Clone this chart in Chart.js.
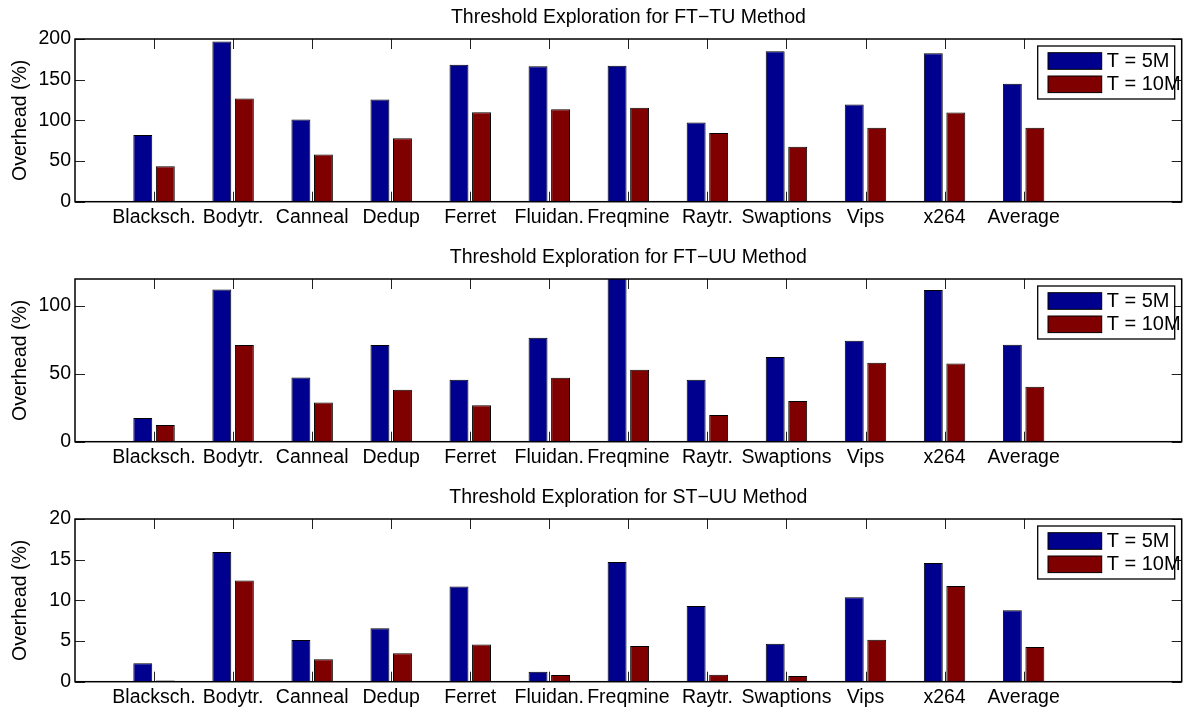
<!DOCTYPE html>
<html>
<head>
<meta charset="utf-8">
<script src="https://cdn.jsdelivr.net/npm/chart.js@4.4.1/dist/chart.umd.min.js"></script>
<style>
  html, body { margin: 0; padding: 0; background: #fff; overflow: hidden; }
  #wrap { position: relative; width: 1194px; height: 713px; }
  .panel { position: absolute; left: 0; width: 1194px; height: 240px; }
</style>
</head>
<body>
<div id="wrap">
  <div class="panel" style="top:0px"><canvas id="c1" width="1194" height="240"></canvas></div>
  <div class="panel" style="top:240px"><canvas id="c2" width="1194" height="240"></canvas></div>
  <div class="panel" style="top:480px"><canvas id="c3" width="1194" height="240"></canvas></div>
</div>
<script>
// Benchmarks (x categories) and the two threshold settings
const benchmarks = ['Blacksch.', 'Bodytr.', 'Canneal', 'Dedup', 'Ferret', 'Fluidan.', 'Freqmine', 'Raytr.', 'Swaptions', 'Vips', 'x264', 'Average'];
const seriesNames = ['T = 5M', 'T = 10M'];

// Overhead (%) per benchmark, FT-TU method
const ftTu5M  = [82, 197, 101, 125.5, 168.5, 166.5, 167, 97.5, 185, 119.5, 182.5, 145];
const ftTu10M = [43.5, 127, 58, 78, 110, 113.5, 115.5, 84.5, 67.5, 91, 109.5, 91];

// Overhead (%) per benchmark, FT-UU method
const ftUu5M  = [17.4, 112.3, 47.4, 71.3, 45.7, 76.7, 124, 45.7, 62.4, 74.4, 111.8, 71.5];
const ftUu10M = [12.3, 71.3, 29, 38.3, 26.8, 47.2, 53.1, 19.7, 30, 58.2, 57.7, 40.5];

// Overhead (%) per benchmark, ST-UU method
const stUu5M  = [2.26, 15.95, 5.13, 6.57, 11.7, 1.23, 14.7, 9.32, 4.68, 10.39, 14.58, 8.79];
const stUu10M = [0.16, 12.44, 2.75, 3.49, 4.56, 0.82, 4.39, 0.86, 0.7, 5.17, 11.75, 4.27];

// Y tick labels and upper limits of each panel
const ftTuTicks = [0, 50, 100, 150, 200];
const ftUuTicks = [0, 50, 100];
const stUuTicks = [0, 5, 10, 15, 20];
const yLimits = [200, 120, 20];
const panelTitles = ['Threshold Exploration for FT\u2212TU Method', 'Threshold Exploration for FT\u2212UU Method', 'Threshold Exploration for ST\u2212UU Method'];
const yAxisTitle = 'Overhead (%)';

const FONT = '"Liberation Sans", Arial, Helvetica, sans-serif';
const TEXT_SIZE = 19.5;
const BLUE = '#00008F';
const RED = '#800000';

// x runs from 0 to 14 with the benchmarks at positions 1..12
const xLabels = [''].concat(benchmarks, ['', '']);
const pad = vals => [null].concat(vals, [null, null]);

// axis box, inward tick marks and the boxed legend in the upper right
const framePlugin = {
  id: 'frame',
  beforeDatasetsDraw(chart) {
    const { ctx, chartArea: a, scales: { x, y } } = chart;
    const tl = 10;
    ctx.save();
    ctx.strokeStyle = '#222';
    ctx.lineWidth = 1;
    ctx.beginPath();
    for (let i = 1; i <= benchmarks.length; i++) {
      const px = Math.round(x.getPixelForValue(i)) + 0.5;
      ctx.moveTo(px, a.top); ctx.lineTo(px, a.top + tl);
      ctx.moveTo(px, a.bottom); ctx.lineTo(px, a.bottom - tl);
    }
    y.ticks.forEach(t => {
      const py = Math.round(y.getPixelForValue(t.value)) + 0.5;
      ctx.moveTo(a.left, py); ctx.lineTo(a.left + tl, py);
      ctx.moveTo(a.right, py); ctx.lineTo(a.right - tl, py);
    });
    ctx.stroke();
    ctx.restore();
  },
  afterDatasetsDraw(chart) {
    const { ctx, chartArea: a } = chart;
    ctx.save();
    ctx.strokeStyle = '#000';
    ctx.lineWidth = 1.5;
    ctx.strokeRect(a.left, a.top, a.right - a.left, a.bottom - a.top);

    // legend
    const w = 137, h = 53;
    const lx = a.right - 144, ly = a.top + 7;
    ctx.fillStyle = '#fff';
    ctx.fillRect(lx, ly, w, h);
    ctx.lineWidth = 1.3;
    ctx.strokeRect(lx, ly, w, h);
    ctx.font = '20px ' + FONT;
    ctx.textBaseline = 'middle';
    ctx.textAlign = 'left';
    chart.data.datasets.forEach((ds, i) => {
      const sy = ly + 6.7 + i * 23.3;
      ctx.fillStyle = ds.backgroundColor;
      ctx.fillRect(lx + 10.3, sy, 53.7, 16.6);
      ctx.lineWidth = 1;
      ctx.strokeStyle = '#000';
      ctx.strokeRect(lx + 10.3, sy, 53.7, 16.6);
      ctx.fillStyle = '#000';
      ctx.fillText(ds.label, lx + 69, sy + 8.8);
    });
    ctx.restore();
  }
};

function makePanel(canvasId, title, s5, s10, tickValues, yMax) {
  return new Chart(document.getElementById(canvasId), {
    type: 'bar',
    data: {
      labels: xLabels,
      datasets: [
        { label: seriesNames[0], data: pad(s5), backgroundColor: BLUE, borderColor: '#000', borderWidth: 1, borderSkipped: 'bottom' },
        { label: seriesNames[1], data: pad(s10), backgroundColor: RED, borderColor: '#000', borderWidth: 1, borderSkipped: 'bottom' }
      ]
    },
    options: {
      responsive: false,
      animation: false,
      devicePixelRatio: 1,
      datasets: { bar: { categoryPercentage: 0.57, barPercentage: 0.84 } },
      layout: { padding: { left: 0, right: 12.3, top: 0, bottom: 0 } },
      plugins: {
        legend: { display: false },
        tooltip: { enabled: false },
        title: {
          display: true,
          text: title,
          fullSize: false,
          color: '#000',
          font: { family: FONT, size: TEXT_SIZE, weight: 'normal', lineHeight: 1.2 },
          padding: { top: 5.5, bottom: 10.1 }
        }
      },
      scales: {
        x: {
          type: 'category',
          offset: false,
          grid: { display: false, drawTicks: false },
          border: { display: false },
          ticks: { autoSkip: false, maxRotation: 0, minRotation: 0, color: '#000', padding: 4, font: { family: FONT, size: TEXT_SIZE } },
          afterFit: s => { s.height = 38.3; }
        },
        y: {
          min: 0,
          max: yMax,
          grid: { display: false, drawTicks: false },
          border: { display: false },
          ticks: { color: '#000', padding: 4, font: { family: FONT, size: TEXT_SIZE } },
          afterBuildTicks: s => { s.ticks = tickValues.map(v => ({ value: v })); },
          afterFit: s => { s.width = 75; },
          title: { display: true, text: yAxisTitle, color: '#000', font: { family: FONT, size: TEXT_SIZE }, padding: { top: 9.3, bottom: 0 } }
        }
      }
    },
    plugins: [framePlugin]
  });
}

makePanel('c1', panelTitles[0], ftTu5M, ftTu10M, ftTuTicks, yLimits[0]);
makePanel('c2', panelTitles[1], ftUu5M, ftUu10M, ftUuTicks, yLimits[1]);
makePanel('c3', panelTitles[2], stUu5M, stUu10M, stUuTicks, yLimits[2]);
</script>
</body>
</html>
